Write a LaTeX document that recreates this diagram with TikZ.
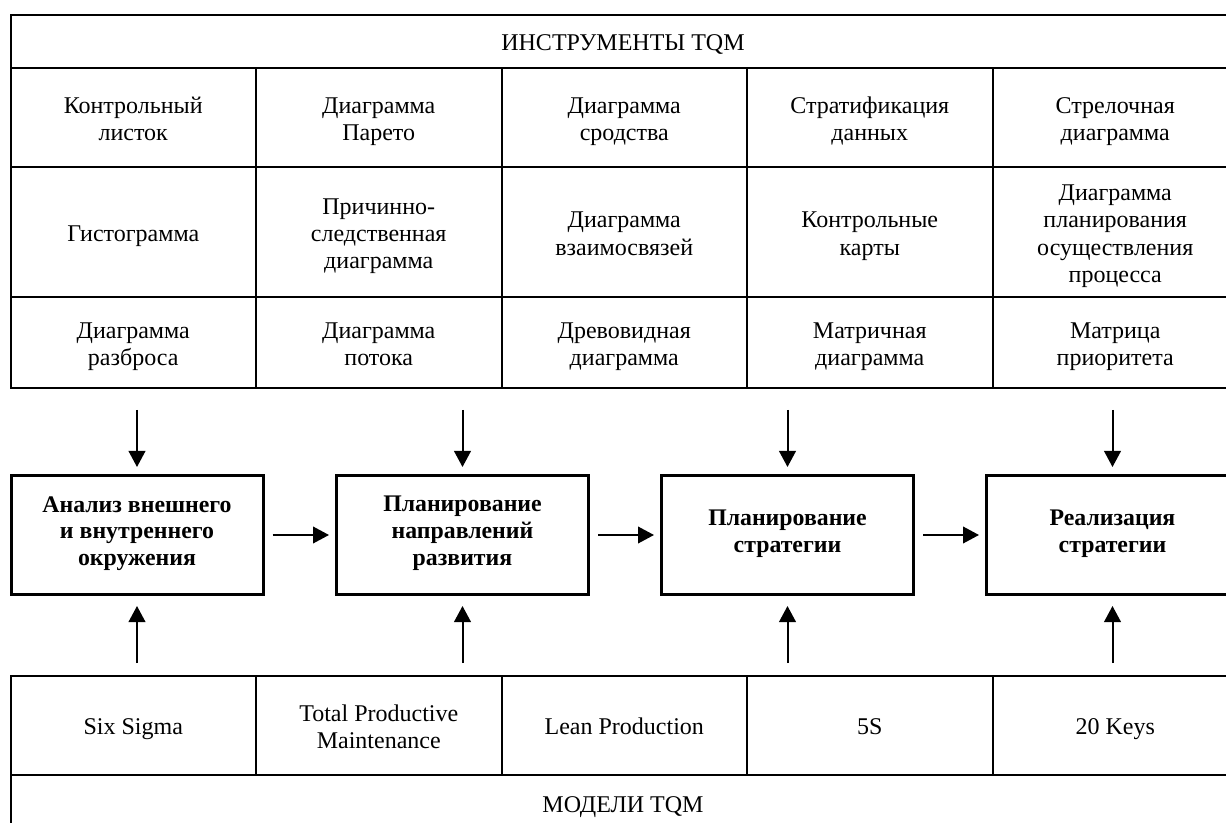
\documentclass[tikz,border=0pt]{standalone}
\usepackage{fontspec}
\setmainfont{Liberation Serif}
\usetikzlibrary{positioning,arrows.meta}

\newcommand{\cellrows}[1]{\begin{tabular}{@{}c@{}}\rule{0pt}{13.5pt}#1\end{tabular}}

\tikzset{
  cell/.style={draw, line width=1pt, minimum width=122.75pt, inner sep=0pt,
    anchor=north west, font=\fontsize{12}{13.6}\selectfont},
  stage/.style={draw, line width=1.5pt, minimum width=126pt, minimum height=59.5pt,
    inner sep=0pt, align=center, anchor=north west,
    font=\bfseries\fontsize{11.9}{13.4}\selectfont,
    execute at begin node=\strut, execute at end node=\strut},
  feed/.style={-{Triangle[length=8pt,width=8.3pt]}, line width=1pt}
}

\begin{document}
\begin{tikzpicture}[x=0.5pt,y=-0.5pt]
  \useasboundingbox (0,0) rectangle (1226,823);
  \clip (0,0) rectangle (1226,823);

  % tools table
  \node[cell, minimum width=612.5pt, minimum height=26.5pt] (tools) at (9.5,14) {\cellrows{ИНСТРУМЕНТЫ TQM}};

  \node[cell, minimum height=49.5pt] (t11) at (9.5,67) {\cellrows{Контрольный\\листок}};
  \node[cell, minimum height=49.5pt] (t12) at (255,67) {\cellrows{Диаграмма\\Парето}};
  \node[cell, minimum height=49.5pt] (t13) at (500.5,67) {\cellrows{Диаграмма\\сродства}};
  \node[cell, minimum height=49.5pt] (t14) at (746,67) {\cellrows{Стратификация\\данных}};
  \node[cell, minimum height=49.5pt] (t15) at (991.5,67) {\cellrows{Стрелочная\\диаграмма}};

  \node[cell, minimum height=65pt] (t21) at (9.5,166) {\cellrows{Гистограмма}};
  \node[cell, minimum height=65pt] (t22) at (255,166) {\cellrows{Причинно-\\следственная\\диаграмма}};
  \node[cell, minimum height=65pt] (t23) at (500.5,166) {\cellrows{Диаграмма\\взаимосвязей}};
  \node[cell, minimum height=65pt] (t24) at (746,166) {\cellrows{Контрольные\\карты}};
  \node[cell, minimum height=65pt] (t25) at (991.5,166) {\cellrows{Диаграмма\\планирования\\осуществления\\процесса}};

  \node[cell, minimum height=45.5pt] (t31) at (9.5,296) {\cellrows{Диаграмма\\разброса}};
  \node[cell, minimum height=45.5pt] (t32) at (255,296) {\cellrows{Диаграмма\\потока}};
  \node[cell, minimum height=45.5pt] (t33) at (500.5,296) {\cellrows{Древовидная\\диаграмма}};
  \node[cell, minimum height=45.5pt] (t34) at (746,296) {\cellrows{Матричная\\диаграмма}};
  \node[cell, minimum height=45.5pt] (t35) at (991.5,296) {\cellrows{Матрица\\приоритета}};

  % stages
  \node[stage] (s1) at (9.5,474) {Анализ внешнего\\и внутреннего\\окружения};
  \node[stage] (s2) at (335,474) {Планирование\\направлений\\развития};
  \node[stage] (s3) at (660,474) {Планирование\\стратегии};
  \node[stage] (s4) at (985,474) {Реализация\\стратегии};

  % models table
  \node[cell, minimum height=49.5pt] (m1) at (9.5,675) {\cellrows{Six Sigma}};
  \node[cell, minimum height=49.5pt] (m2) at (255,675) {\cellrows{Total Productive\\Maintenance}};
  \node[cell, minimum height=49.5pt] (m3) at (500.5,675) {\cellrows{Lean Production}};
  \node[cell, minimum height=49.5pt] (m4) at (746,675) {\cellrows{5S}};
  \node[cell, minimum height=49.5pt] (m5) at (991.5,675) {\cellrows{20 Keys}};
  \node[cell, minimum width=612.5pt, minimum height=28pt] (models) at (9.5,774) {\cellrows{МОДЕЛИ TQM}};

  % arrows
  \foreach \s in {s1,s2,s3,s4}{
    \coordinate[above=32pt of \s.north] (\s-in);
    \coordinate[below=33.5pt of \s.south] (\s-up);
    \draw[feed, shorten >=3.5pt] (\s-in) -- (\s.north);
    \draw[feed, shorten >=5pt] (\s-up) -- (\s.south);
  }
  \draw[feed, shorten <=4pt, shorten >=3pt] (s1.east) -- (s2.west);
  \draw[feed, shorten <=4pt, shorten >=3pt] (s2.east) -- (s3.west);
  \draw[feed, shorten <=4pt, shorten >=3pt] (s3.east) -- (s4.west);
\end{tikzpicture}
\end{document}
